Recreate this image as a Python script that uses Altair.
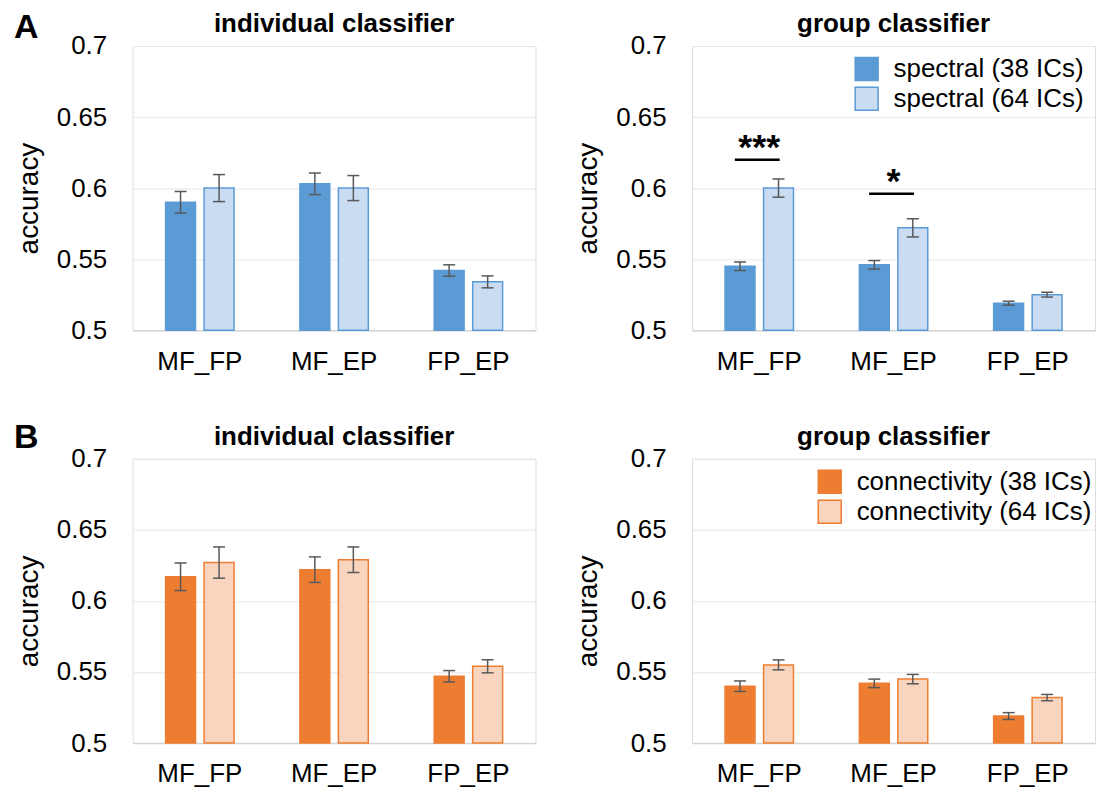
import altair as alt
import pandas as pd

categories = ["MF_FP", "MF_EP", "FP_EP"]

# Panel A: spectral features
spec_series = ["spectral (38 ICs)", "spectral (64 ICs)"]
spec_ind_38 = [0.590, 0.603, 0.542]
spec_ind_38_err = [0.0076, 0.0076, 0.0040]
spec_ind_64 = [0.600, 0.600, 0.534]
spec_ind_64_err = [0.0095, 0.0088, 0.0042]
spec_grp_38 = [0.545, 0.546, 0.519]
spec_grp_38_err = [0.0030, 0.0030, 0.0014]
spec_grp_64 = [0.600, 0.572, 0.525]
spec_grp_64_err = [0.0064, 0.0064, 0.0017]

# Panel B: connectivity features
conn_series = ["connectivity (38 ICs)", "connectivity (64 ICs)"]
conn_ind_38 = [0.617, 0.622, 0.547]
conn_ind_38_err = [0.0097, 0.0090, 0.0040]
conn_ind_64 = [0.627, 0.629, 0.554]
conn_ind_64_err = [0.0110, 0.0090, 0.0046]
conn_grp_38 = [0.540, 0.542, 0.519]
conn_grp_38_err = [0.0037, 0.0030, 0.0024]
conn_grp_64 = [0.555, 0.545, 0.532]
conn_grp_64_err = [0.0035, 0.0033, 0.0022]

# significance markers (panel A, group classifier)
sig_categories = ["MF_FP", "MF_EP"]
sig_labels = ["***", "*"]
sig_y = [0.620, 0.596]

y_ticks = [0.5, 0.55, 0.6, 0.65, 0.7]

BLUE = "#5B9BD5"
BLUE_LIGHT = "#c9dcf1"
ORANGE = "#ED7D31"
ORANGE_LIGHT = "#f9d5bf"
ERR = "#595959"
FONT = "Liberation Sans"
W = 404
H = 285
OFF = 19.3
BAR_W = 30


def panel(title, series, v38, e38, v64, e64, solid, light, legend, letter, sig=None):
    x = alt.X("category:N", sort=categories,
              scale=alt.Scale(paddingInner=0.485, paddingOuter=0.2425),
              axis=alt.Axis(title=None, labelAngle=0, ticks=False, domainColor="#d4d4d4",
                            domainWidth=1.5, labelFontSize=26, labelPadding=18,
                            labelColor="black", grid=False, labelFont=FONT))
    yaxis = alt.Axis(values=y_ticks, format="~g", title="accuracy", ticks=False, domain=False,
                     labelFontSize=26, labelPadding=26, labelColor="black", labelFont=FONT,
                     titleFontSize=28, titleFontWeight="normal", titlePadding=13,
                     titleY=H / 2 + 10,
                     titleColor="black", titleFont=FONT, gridColor="#e6e6e6")
    yscale = alt.Scale(domain=[0.5, 0.7], zero=False, nice=False)

    if legend:
        leg = alt.Legend(title=None, orient="none", legendX=legend[0], legendY=legend[1],
                         symbolType="square", symbolSize=529, labelFontSize=26,
                         labelOffset=14, rowPadding=0, padding=0, labelFont=FONT,
                         symbolStrokeColor=solid, symbolStrokeWidth=1.5,
                         labelColor="black", labelLimit=400)
    else:
        leg = None
    fill = alt.Fill("series:N", sort=series,
                    scale=alt.Scale(domain=series, range=[solid, light]), legend=leg)

    layers = []
    for s, vals, errs, off in ((series[0], v38, e38, -OFF), (series[1], v64, e64, OFF)):
        df = pd.DataFrame({"category": categories, "series": [s] * 3,
                           "value": vals, "err": errs})
        df["lo"] = df["value"] - df["err"]
        df["hi"] = df["value"] + df["err"]
        base = alt.Chart(df)
        layers.append(base.mark_bar(stroke=solid, strokeWidth=1.5, width=BAR_W, xOffset=off).encode(
            x=x, y=alt.Y("value:Q", scale=yscale, axis=yaxis), y2=alt.datum(0.5), fill=fill))
        layers.append(base.mark_rule(color=ERR, strokeWidth=1.5, xOffset=off, opacity=1).encode(
            x=x, y=alt.Y("lo:Q", scale=yscale, axis=yaxis), y2="hi:Q"))
        layers.append(base.mark_tick(color=ERR, thickness=1.5, size=12, xOffset=off,
                                     opacity=1).encode(
            x=x, y=alt.Y("lo:Q", scale=yscale, axis=yaxis)))
        layers.append(base.mark_tick(color=ERR, thickness=1.5, size=12, xOffset=off,
                                     opacity=1).encode(
            x=x, y=alt.Y("hi:Q", scale=yscale, axis=yaxis)))

    if sig is not None:
        sdf = pd.DataFrame({"category": sig[0], "label": sig[1], "y": sig[2]})
        sbase = alt.Chart(sdf)
        layers.append(sbase.mark_tick(color="black", thickness=2.5, size=45, xOffset=-2,
                                      opacity=1).encode(
            x=x, y=alt.Y("y:Q", scale=yscale, axis=yaxis)))
        layers.append(sbase.mark_text(fontSize=36, fontWeight="bold", baseline="alphabetic",
                                      dy=-1, color="black", font=FONT).encode(
            x=x, y=alt.Y("y:Q", scale=yscale, axis=yaxis), text="label:N"))

    tdf = pd.DataFrame({"t": [title]})
    layers.append(alt.Chart(tdf).mark_text(
        align="center", baseline="alphabetic", fontSize=26, fontWeight="bold",
        color="black", font=FONT).encode(
        x=alt.value(W / 2), y=alt.value(-14), text="t:N"))

    if letter is not None:
        ldf = pd.DataFrame({"letter": [letter[0]]})
        layers.append(alt.Chart(ldf).mark_text(
            align="left", baseline="alphabetic", fontSize=34, fontWeight="bold",
            color="black", font=FONT).encode(
            x=alt.value(letter[1]), y=alt.value(letter[2]), text="letter:N"))

    return alt.layer(*layers).properties(width=W, height=H)


a_ind = panel("individual classifier", spec_series, spec_ind_38, spec_ind_38_err,
              spec_ind_64, spec_ind_64_err, BLUE, BLUE_LIGHT, None, ("A", -119, -8))
a_grp = panel("group classifier", spec_series, spec_grp_38, spec_grp_38_err,
              spec_grp_64, spec_grp_64_err, BLUE, BLUE_LIGHT, (162, 10), None,
              sig=(sig_categories, sig_labels, sig_y))
b_ind = panel("individual classifier", conn_series, conn_ind_38, conn_ind_38_err,
              conn_ind_64, conn_ind_64_err, ORANGE, ORANGE_LIGHT, None, ("B", -119, -11))
b_grp = panel("group classifier", conn_series, conn_grp_38, conn_grp_38_err,
              conn_grp_64, conn_grp_64_err, ORANGE, ORANGE_LIGHT, (125, 10), None)

top = alt.hconcat(a_ind, a_grp, spacing=37).resolve_scale(fill="independent")
bottom = alt.hconcat(b_ind, b_grp, spacing=37).resolve_scale(fill="independent")

chart = alt.vconcat(top, bottom, spacing=45).resolve_scale(fill="independent").properties(
    padding={"left": 5, "top": 1, "right": 0, "bottom": 0}
).configure_view(stroke=None).configure(font=FONT, background="white")

chart.save("out.html", embed_options={"renderer": "svg", "actions": False})
